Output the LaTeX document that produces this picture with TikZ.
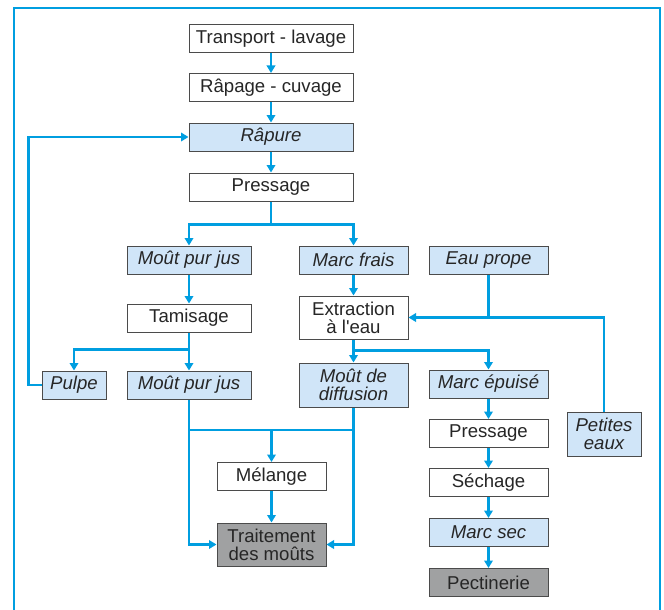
\documentclass[tikz,border=0pt]{standalone}
\usepackage{fontspec}
\setmainfont{Liberation Sans}
\usetikzlibrary{arrows.meta}

\definecolor{flux}{RGB}{0,158,224}
\definecolor{bleuclair}{RGB}{208,229,248}
\definecolor{grisfonce}{RGB}{160,161,162}
\definecolor{trait}{RGB}{75,75,75}

\begin{document}
\begin{tikzpicture}[x=1pt, y=-1pt,
    etape/.style={draw=trait, line width=1pt, fill=white, text=black!85,
      minimum height=28pt, inner sep=1pt, align=center,
      font=\fontsize{18.6}{18}\selectfont},
    produit/.style={etape, fill=bleuclair, font=\fontsize{18.6}{18}\selectfont\itshape},
    final/.style={etape, fill=grisfonce},
    ligne/.style={draw=flux, line width=2.4pt},
    fleche/.style={ligne, -{Triangle[width=8.5pt,length=7.5pt]}}]
      \useasboundingbox (0,0) rectangle (664,610);
      %\draw [help lines, step=10] (0,0) grid (664,610);
      \draw [flux, line width=1.2pt] (14,612) -- (14,8) -- (660,8) -- (660,612);

      % colonne centrale
      \node [etape, minimum width=164pt] (transport) at (271,39) {Transport - lavage};
      \node [etape, minimum width=164pt] (rapage) at (271,87.5) {Râpage - cuvage};
      \node [produit, minimum width=164pt] (rapure) at (271,137) {Râpure};
      \node [etape, minimum width=164pt] (pressage) at (271,187) {Pressage};

      % jus
      \node [produit, minimum width=124pt] (jus) at (189,260) {Moût pur jus};
      \node [etape, minimum width=124pt] (tamisage) at (189,318) {Tamisage};
      \node [produit, minimum width=64pt] (pulpe) at (74,385) {Pulpe};
      \node [produit, minimum width=124pt] (jus2) at (189,385) {Moût pur jus};

      % diffusion
      \node [produit, minimum width=109pt] (frais) at (353.5,260) {Marc frais};
      \node [etape, minimum width=109pt, minimum height=43pt] (extraction)
        at (353.5,317.5) {Extraction\\à l\textquotesingle eau};
      \node [produit, minimum width=109pt, minimum height=44pt] (diffusion)
        at (353.5,385) {Moût de\\diffusion};
      \node [etape, minimum width=109pt] (melange) at (271.5,476.5) {Mélange};
      \node [final, minimum width=109pt, minimum height=43pt] (traitement)
        at (271.5,544.5) {Traitement\\des moûts};

      % marc
      \node [produit, minimum width=119pt] (eau) at (488.5,260) {Eau prope};
      \node [produit, minimum width=119pt] (epuise) at (488.5,384) {Marc épuisé};
      \node [etape, minimum width=119pt] (pressage2) at (488.5,433.5) {Pressage};
      \node [etape, minimum width=119pt] (sechage) at (488.5,482.5) {Séchage};
      \node [produit, minimum width=119pt] (sec) at (488.5,532.5) {Marc sec};
      \node [final, minimum width=119pt] (pectinerie) at (488.5,582.5) {Pectinerie};
      \node [produit, minimum width=74pt, minimum height=44pt] (petites)
        at (604,434) {Petites\\eaux};

      \draw [fleche] (transport) -- (rapage);
      \draw [fleche] (rapage) -- (rapure);
      \draw [fleche] (rapure) -- (pressage);
      \draw [ligne] (pressage.south) -- ++(0,23) coordinate (s1);
      \draw [fleche] (s1) -| (jus.north);
      \draw [fleche] (s1) -| (frais.north);

      \draw [fleche] (jus) -- (tamisage);
      \draw [ligne] (tamisage.south) -- ++(0,17) coordinate (s2);
      \draw [fleche] (s2) -| (pulpe.north);
      \draw [fleche] (s2) -- (jus2.north);
      \draw [fleche] (pulpe.west) -- ++(-13,0) |- (rapure.west);

      \draw [fleche] (frais) -- (extraction);
      \draw [ligne] (eau.south) -- (eau.south |- extraction.east);
      \draw [fleche] (petites.north) |- (extraction.east);
      \draw [ligne] (extraction.south) -- ++(0,11) coordinate (s3);
      \draw [fleche] (s3) -- (diffusion.north);
      \draw [fleche] (s3) -| (epuise.north);

      \coordinate (s4) at (271.5,430);
      \draw [ligne] (jus2.south |- s4) -- (diffusion.south |- s4);
      \draw [fleche] (s4) -- (melange.north);
      \draw [fleche] (jus2.south) |- (traitement.west);
      \draw [fleche] (diffusion.south) |- (traitement.east);
      \draw [fleche] (melange) -- (traitement);

      \draw [fleche] (epuise) -- (pressage2);
      \draw [fleche] (pressage2) -- (sechage);
      \draw [fleche] (sechage) -- (sec);
      \draw [fleche] (sec) -- (pectinerie);
\end{tikzpicture}
\end{document}
